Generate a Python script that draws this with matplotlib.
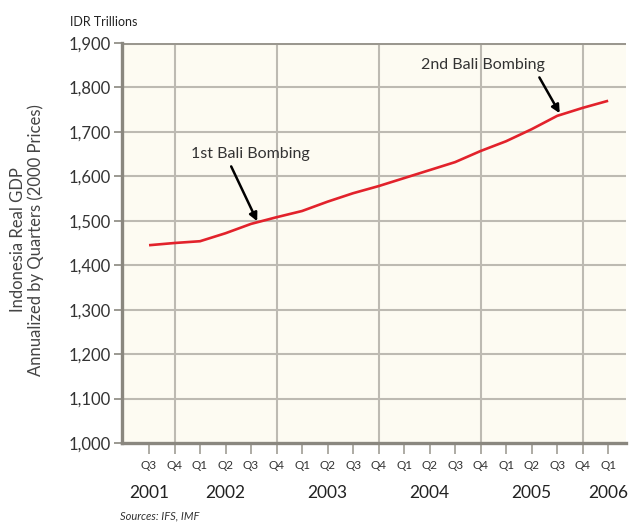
import matplotlib
matplotlib.use("Agg")
import matplotlib.pyplot as plt
import numpy as np

# quarters from Q3 2001 to Q1 2006
quarters = ["Q3", "Q4", "Q1", "Q2", "Q3", "Q4", "Q1", "Q2", "Q3", "Q4",
            "Q1", "Q2", "Q3", "Q4", "Q1", "Q2", "Q3", "Q4", "Q1"]
gdp = [1445, 1450, 1454, 1472, 1493, 1508, 1522, 1543, 1562, 1578,
       1596, 1614, 1632, 1657, 1679, 1706, 1736, 1754, 1770]
years = ["2001", "2002", "2003", "2004", "2005", "2006"]
year_pos = [0, 3, 7, 11, 15, 18]
yticks = [1000, 1100, 1200, 1300, 1400, 1500, 1600, 1700, 1800, 1900]
grid_x = [1, 5, 9, 13, 17]   # Q4 positions

plt.rcParams['font.family'] = ['Lato', 'DejaVu Sans']

fig = plt.figure(figsize=(6.31, 5.29), dpi=100)
ax = fig.add_axes([122 / 631, 1 - 443 / 529, 504 / 631, 400 / 529])
ax.set_facecolor("#fdfbf2")

x = np.arange(len(quarters))
ax.set_xlim(-1.06, 18.7)
ax.set_ylim(1000, 1900)

gridc = "#bdbab2"
for v in yticks[1:]:
    ax.axhline(v, color=gridc, lw=1.5, zorder=1)
for g in grid_x:
    ax.axvline(g, color=gridc, lw=1.5, zorder=1)
ax.axhline(1900, color="#9a978f", lw=2.2, zorder=1)

ax.plot(x, gdp, color="#e2222b", lw=1.9, zorder=3, solid_capstyle="butt")

for s in ["top", "right"]:
    ax.spines[s].set_visible(False)
for s in ["left", "bottom"]:
    ax.spines[s].set_color("#8a877f")
    ax.spines[s].set_linewidth(2.4)

ax.set_yticks(yticks)
ax.set_yticklabels([f"{v:,}" for v in yticks], fontsize=12, color="#333333")
ax.tick_params(axis="y", length=6, width=1.2, color="#8a877f", pad=2)
ax.set_xticks(x)
ax.set_xticklabels(quarters, fontsize=8.5, color="#333333")
ax.tick_params(axis="x", length=8, width=1.2, color="#a09d95", pad=4)

for yr, p in zip(years, year_pos):
    ax.text(p, -0.125, yr, transform=ax.get_xaxis_transform(),
            ha="center", va="center", fontsize=12.5, color="#222222")

fig.text(27 / 631, 1 - 240 / 529,
         "Indonesia Real GDP\nAnnualized by Quarters (2000 Prices)",
         rotation=90, ha="center", va="center", fontsize=12,
         color="#444444", linespacing=1.1)
fig.text(70 / 631, 1 - 22 / 529, "IDR Trillions", ha="left", va="center",
         fontsize=9, color="#222222")
fig.text(120 / 631, 1 - 516 / 529, "Sources: IFS, IMF", ha="left",
         va="center", fontsize=8, style="italic", color="#333333")

ax.annotate("1st Bali Bombing", xy=(4.24, 1499), xytext=(3.96, 1650),
            ha="center", va="center", fontsize=11.5, color="#333333",
            arrowprops=dict(arrowstyle="-|>", color="black", lw=1.8,
                            shrinkA=2, shrinkB=0, mutation_scale=12,
                            relpos=(0.32, 0.0)))
ax.annotate("2nd Bali Bombing", xy=(16.1, 1742), xytext=(13.1, 1850),
            ha="center", va="center", fontsize=11.5, color="#333333",
            arrowprops=dict(arrowstyle="-|>", color="black", lw=1.8,
                            shrinkA=2, shrinkB=0, mutation_scale=12,
                            relpos=(0.93, 0.0)))

fig.savefig("out.png", dpi=100)
